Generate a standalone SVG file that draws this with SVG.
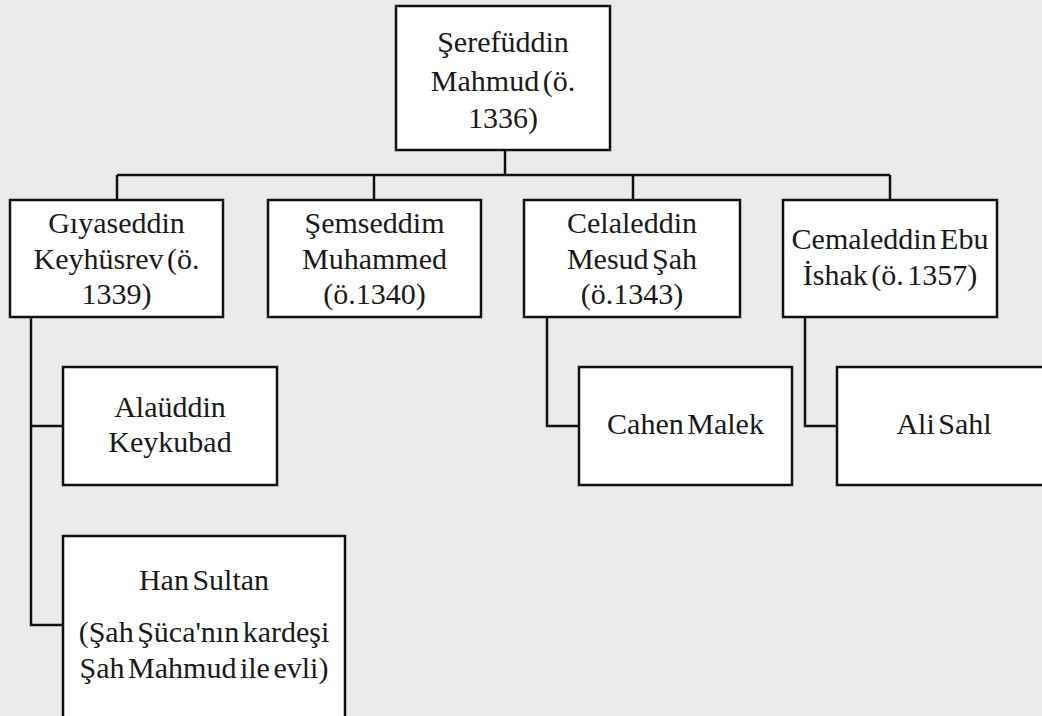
<svg xmlns="http://www.w3.org/2000/svg" width="1042" height="716" viewBox="0 0 1042 716">
<style>
.box{fill:#ffffff;stroke:#111111;stroke-width:2.5}
.ln{fill:none;stroke:#111111;stroke-width:2.5}
text{font-family:"Liberation Serif","Times New Roman",serif;font-size:30px;fill:#1a1a1a;text-anchor:middle;word-spacing:-4px}
</style>
<rect x="0" y="0" width="1042" height="716" fill="#eaeceb"/>
<g id="connectors">
<path class="ln" d="M505 150 V175 M117 175 H890 M117 175 V200 M374 175 V200 M633 175 V200 M890 175 V200"/>
<path class="ln" d="M31 317 V625 H63 M31 426 H63"/>
<path class="ln" d="M547 317 V426 H579"/>
<path class="ln" d="M805 317 V426 H837"/>
</g>
<g id="n-seref">
<rect class="box" x="396" y="6" width="214" height="144"/>
<text x="503" y="52">Şerefüddin</text>
<text x="503" y="91">Mahmud (ö.</text>
<text x="503" y="128">1336)</text>
</g>
<g id="n-giyaseddin">
<rect class="box" x="10" y="200" width="213" height="117"/>
<text x="116.5" y="233">Gıyaseddin</text>
<text x="116.5" y="269">Keyhüsrev (ö.</text>
<text x="116.5" y="304">1339)</text>
</g>
<g id="n-semseddim">
<rect class="box" x="268" y="200" width="213" height="117"/>
<text x="374.5" y="233">Şemseddim</text>
<text x="374.5" y="269">Muhammed</text>
<text x="374.5" y="304">(ö.1340)</text>
</g>
<g id="n-celaleddin">
<rect class="box" x="524" y="200" width="216" height="117"/>
<text x="632" y="233">Celaleddin</text>
<text x="632" y="269">Mesud Şah</text>
<text x="632" y="304">(ö.1343)</text>
</g>
<g id="n-cemaleddin">
<rect class="box" x="783" y="200" width="214" height="117"/>
<text x="890" y="249">Cemaleddin Ebu</text>
<text x="890" y="285">İshak (ö. 1357)</text>
</g>
<g id="n-alauddin">
<rect class="box" x="63" y="367" width="214" height="118"/>
<text x="170" y="417">Alaüddin</text>
<text x="170" y="452">Keykubad</text>
</g>
<g id="n-hansultan">
<rect class="box" x="63" y="536" width="282" height="200"/>
<text x="204" y="590">Han Sultan</text>
<text x="204" y="642">(Şah Şüca'nın kardeşi</text>
<text x="204" y="678">Şah Mahmud ile evli)</text>
</g>
<g id="n-cahen">
<rect class="box" x="579" y="367" width="213" height="118"/>
<text x="685.5" y="434">Cahen Malek</text>
</g>
<g id="n-alisahl">
<rect class="box" x="837" y="367" width="220" height="118"/>
<text x="944" y="434">Ali Sahl</text>
</g>
</svg>
